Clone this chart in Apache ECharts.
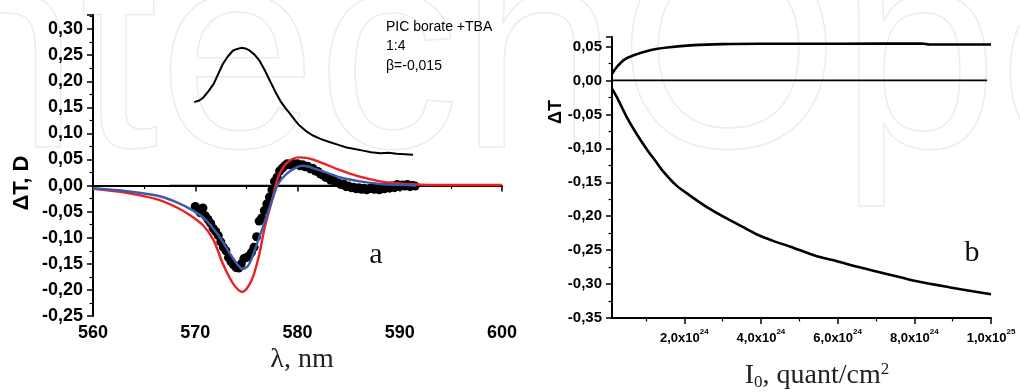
<!DOCTYPE html>
<html>
<head>
<meta charset="utf-8">
<script src="https://cdn.jsdelivr.net/npm/echarts@6/dist/echarts.min.js"></script>
<style>html,body{margin:0;padding:0;background:#fff}#c{width:1020px;height:392px}</style>
</head>
<body>
<div id="c"></div>
<script>
// ---------- Panel a data (wavelength nm, ΔT) ----------
var spectrumA = [[569.9,0.160],[570.4,0.163],[570.8,0.169],[571.3,0.181],[571.8,0.195],[572.2,0.212],[572.7,0.233],[573.2,0.248],[573.7,0.259],[574.1,0.262],[574.5,0.264],[574.9,0.263],[575.3,0.259],[575.8,0.251],[576.3,0.239],[576.8,0.221],[577.3,0.201],[577.8,0.181],[578.3,0.163],[578.8,0.149],[579.3,0.137],[579.8,0.124],[580.2,0.115],[580.8,0.105],[581.5,0.096],[582.3,0.089],[583.2,0.083],[584.0,0.078],[584.8,0.073],[585.6,0.070],[586.4,0.067],[587.2,0.064],[588.1,0.062],[588.9,0.063],[589.7,0.061],[590.5,0.060],[591.3,0.059]];
var zeroLineA = [[567.5,0],[591.7,0]];
var expDots = [[570.00,-0.040],[570.25,-0.045],[570.50,-0.052],[570.75,-0.043],[571.00,-0.058],[571.25,-0.065],[571.50,-0.072],[571.75,-0.082],[572.00,-0.088],[572.25,-0.096],[572.50,-0.108],[572.75,-0.118],[573.00,-0.125],[573.25,-0.138],[573.50,-0.146],[573.75,-0.152],[574.00,-0.157],[574.25,-0.158],[574.50,-0.150],[574.75,-0.140],[575.00,-0.138],[575.25,-0.135],[575.50,-0.128],[575.75,-0.118],[576.00,-0.098],[576.25,-0.068],[576.50,-0.062],[576.75,-0.048],[577.00,-0.035],[577.25,-0.022],[577.50,-0.008],[577.75,0.008],[578.00,0.016],[578.25,0.028],[578.50,0.033],[578.75,0.038],[579.00,0.042],[579.25,0.040],[579.50,0.043],[579.75,0.041],[580.00,0.042],[580.25,0.038],[580.50,0.040],[580.75,0.036],[581.00,0.037],[581.25,0.032],[581.50,0.033],[581.75,0.028],[582.00,0.027],[582.25,0.022],[582.50,0.020],[582.75,0.016],[583.00,0.015],[583.25,0.010],[583.50,0.011],[583.75,0.006],[584.00,0.005],[584.25,0.002],[584.50,0.003],[584.75,-0.002],[585.00,-0.001],[585.25,-0.004],[585.50,-0.003],[585.75,-0.006],[586.00,-0.004],[586.25,-0.007],[586.50,-0.005],[586.75,-0.008],[587.00,-0.006],[587.25,-0.004],[587.50,-0.007],[587.75,-0.005],[588.00,-0.008],[588.25,-0.004],[588.50,-0.006],[588.75,-0.002],[589.00,-0.005],[589.25,-0.001],[589.50,-0.004],[589.75,0.002],[590.00,-0.002],[590.25,0.001],[590.50,-0.001],[590.75,0.002],[591.00,-0.002],[591.25,0.000],[591.50,-0.001]];
var redFit = [[560,-0.006],[563,-0.013],[566.2,-0.026],[568.2,-0.042],[569.5,-0.057],[570.8,-0.077],[571.8,-0.105],[572.7,-0.150],[573.7,-0.188],[574.6,-0.204],[575.5,-0.182],[576.2,-0.137],[576.8,-0.080],[577.5,-0.029],[578.1,0.016],[578.9,0.042],[580.1,0.054],[580.9,0.053],[582.2,0.045],[584.1,0.030],[586.1,0.017],[588.1,0.008],[590.0,0.004],[591.6,0.002],[593,0.001],[600,0.001]];
var blueFit = [[560,-0.005],[563,-0.010],[566.2,-0.019],[568.2,-0.032],[569.8,-0.048],[571.1,-0.067],[572.4,-0.099],[573.4,-0.131],[574.2,-0.153],[574.6,-0.160],[575.2,-0.153],[575.8,-0.125],[576.6,-0.080],[577.5,-0.029],[578.1,0.003],[578.9,0.022],[579.9,0.035],[580.5,0.038],[582.2,0.029],[584.1,0.016],[586.1,0.008],[588.1,0.003],[590.7,0.001],[591.6,0.000]];
var xTicksA = {min:560, max:600, step:10};
var yTicksA = {min:-0.25, max:0.327, step:0.05};

// ---------- Panel b data (I0 in units of 1e24 quant/cm2, ΔT) ----------
var upperB = [[0.115,0.010],[0.245,0.020],[0.42,0.030],[0.68,0.037],[1.11,0.0445],[1.55,0.0485],[2.25,0.052],[3.0,0.0535],[4.0,0.054],[6.0,0.054],[8.2,0.0545],[8.4,0.053],[10,0.053]];
var lowerB = [[0.115,-0.012],[0.245,-0.025],[0.51,-0.055],[0.77,-0.080],[1.03,-0.102],[1.24,-0.118],[1.42,-0.132],[1.8,-0.155],[2.16,-0.170],[2.6,-0.187],[3.03,-0.201],[3.5,-0.215],[3.9,-0.227],[4.3,-0.236],[4.77,-0.245],[5.46,-0.259],[5.9,-0.265],[6.33,-0.272],[7.2,-0.284],[8.07,-0.296],[8.94,-0.305],[10,-0.315]];
var zeroLineB = [[0.115,0],[9.9,0]];
var xMajorB = [2,4,6,8,10];
var xMinorB = [1,3,5,7,9];
var yTicksB = {min:-0.35, max:0.064, step:0.05};

var SANS = 'Liberation Sans';
var SERIF = 'Liberation Serif';
function comma(v){ return v.toFixed(2).replace('.', ','); }

var chart = echarts.init(document.getElementById('c'));
var axLine = {lineStyle:{color:'#000', width:2}};
var tick = {show:true, inside:false, length:6, lineStyle:{color:'#000', width:1.5}};
var minor = {show:true, splitNumber:2, length:3.5, lineStyle:{color:'#000', width:1.2}};

var option = {
  animation:false,
  backgroundColor:'#fff',
  grid:[
    {left:93, top:15, width:409, height:301},
    {left:612, top:37, width:379, height:281}
  ],
  xAxis:[
    {gridIndex:0, type:'value', position:'bottom', min:xTicksA.min, max:xTicksA.max, interval:xTicksA.step,
     axisLine:axLine, axisTick:tick, minorTick:minor, splitLine:{show:false},
     axisLabel:{fontFamily:SANS, fontWeight:'bold', fontSize:18, color:'#000', margin:8}},
    {gridIndex:1, type:'value', position:'bottom', min:0.115, max:10,
     axisLine:{show:true, onZero:false, lineStyle:{color:'#000', width:2}},
     axisTick:{show:true, length:6, customValues:xMajorB, lineStyle:{color:'#000',width:1.5}}, splitLine:{show:false},
     axisLabel:{customValues:xMajorB, margin:10, formatter:function(v){
        if (Math.abs(v-10)<1e-9) return '{b|1,0x10}{s|25}';
        return '{b|'+v.toFixed(1).replace('.',',')+'x10}{s|24}';
     }, rich:{
        b:{fontFamily:SANS, fontWeight:'bold', fontSize:13, color:'#000', lineHeight:17, verticalAlign:'bottom'},
        s:{fontFamily:SANS, fontWeight:'bold', fontSize:8, color:'#000', lineHeight:10, verticalAlign:'top'}
     }}},
    {gridIndex:1, type:'value', position:'bottom', min:0.115, max:10,
     axisLine:{show:false, onZero:false}, axisTick:{show:true, length:3.5, customValues:xMinorB, lineStyle:{color:'#000',width:1.2}},
     axisLabel:{show:false}, splitLine:{show:false}}
  ],
  yAxis:[
    {gridIndex:0, type:'value', min:yTicksA.min, max:yTicksA.max, interval:yTicksA.step,
     axisLine:axLine, axisTick:tick, minorTick:minor, splitLine:{show:false},
     axisLabel:{fontFamily:SANS, fontWeight:'bold', fontSize:18, color:'#000', margin:10, showMaxLabel:false, formatter:comma}},
    {gridIndex:1, type:'value', min:yTicksB.min, max:yTicksB.max, interval:yTicksB.step,
     axisLine:axLine, axisTick:tick, minorTick:minor, splitLine:{show:false},
     axisLabel:{fontFamily:SANS, fontWeight:'bold', fontSize:15, color:'#000', margin:10, showMaxLabel:false, formatter:comma}}
  ],
  graphic:[
    {type:'text', silent:true, z:-10, left:-80, top:-75,
     style:{text:'ntechOpen', fontFamily:SANS, fontSize:285, fill:'rgba(0,0,0,0)', stroke:'#ececec', lineWidth:1.5}},
    {type:'text', x:22, y:183, rotation:Math.PI/2, style:{text:'ΔT, D', fontFamily:SANS, fontWeight:'bold', fontSize:22, fill:'#000', align:'center', verticalAlign:'middle'}},
    {type:'text', x:302, y:360, style:{text:'λ, nm', fontFamily:SERIF, fontSize:28, fill:'#222', align:'center', verticalAlign:'middle'}},
    {type:'text', x:376, y:255, style:{text:'a', fontFamily:SERIF, fontSize:30, fill:'#111', align:'center', verticalAlign:'middle'}},
    {type:'text', x:386, y:27, style:{text:'PIC borate +TBA', fontFamily:SANS, fontSize:14, fill:'#000', align:'left', verticalAlign:'middle'}},
    {type:'text', x:386, y:46, style:{text:'1:4', fontFamily:SANS, fontSize:14, fill:'#000', align:'left', verticalAlign:'middle'}},
    {type:'text', x:386, y:66, style:{text:'β=-0,015', fontFamily:SANS, fontSize:14, fill:'#000', align:'left', verticalAlign:'middle'}},
    {type:'text', x:556, y:112, rotation:Math.PI/2, style:{text:'ΔT', fontFamily:SANS, fontWeight:'bold', fontSize:18, fill:'#000', align:'center', verticalAlign:'middle'}},
    {type:'text', x:972, y:253, style:{text:'b', fontFamily:SERIF, fontSize:30, fill:'#111', align:'center', verticalAlign:'middle'}},
    {type:'text', x:817, y:376, style:{text:'{a|I}{sub|0}{a|, quant/cm}{sup|2}', align:'center', verticalAlign:'middle',
      rich:{a:{fontFamily:SERIF, fontSize:28, fill:'#222', lineHeight:30, verticalAlign:'middle'},
            sub:{fontFamily:SERIF, fontSize:17, fill:'#222', lineHeight:30, verticalAlign:'bottom'},
            sup:{fontFamily:SERIF, fontSize:17, fill:'#222', lineHeight:14, verticalAlign:'top'}}}}
  ],
  series:[
    {type:'line', xAxisIndex:0, yAxisIndex:0, data:spectrumA, symbol:'none', lineStyle:{color:'#000', width:2}},
    {type:'line', xAxisIndex:0, yAxisIndex:0, data:zeroLineA, symbol:'none', lineStyle:{color:'#000', width:1.5}},
    {type:'scatter', xAxisIndex:0, yAxisIndex:0, data:expDots, symbol:'circle', symbolSize:9, itemStyle:{color:'#000', opacity:1}},
    {type:'line', xAxisIndex:0, yAxisIndex:0, data:redFit, symbol:'none', smooth:0.3, lineStyle:{color:'#ec2024', width:2.4}},
    {type:'line', xAxisIndex:0, yAxisIndex:0, data:blueFit, symbol:'none', smooth:0.3, lineStyle:{color:'#3e5aa8', width:2.4}},
    {type:'line', xAxisIndex:1, yAxisIndex:1, data:zeroLineB, symbol:'none', lineStyle:{color:'#000', width:1.8}},
    {type:'line', xAxisIndex:1, yAxisIndex:1, data:upperB, symbol:'none', smooth:0.3, lineStyle:{color:'#000', width:2.6}},
    {type:'line', xAxisIndex:1, yAxisIndex:1, data:lowerB, symbol:'none', smooth:0.3, lineStyle:{color:'#000', width:2.6}}
  ]
};
chart.setOption(option);
</script>
</body>
</html>
